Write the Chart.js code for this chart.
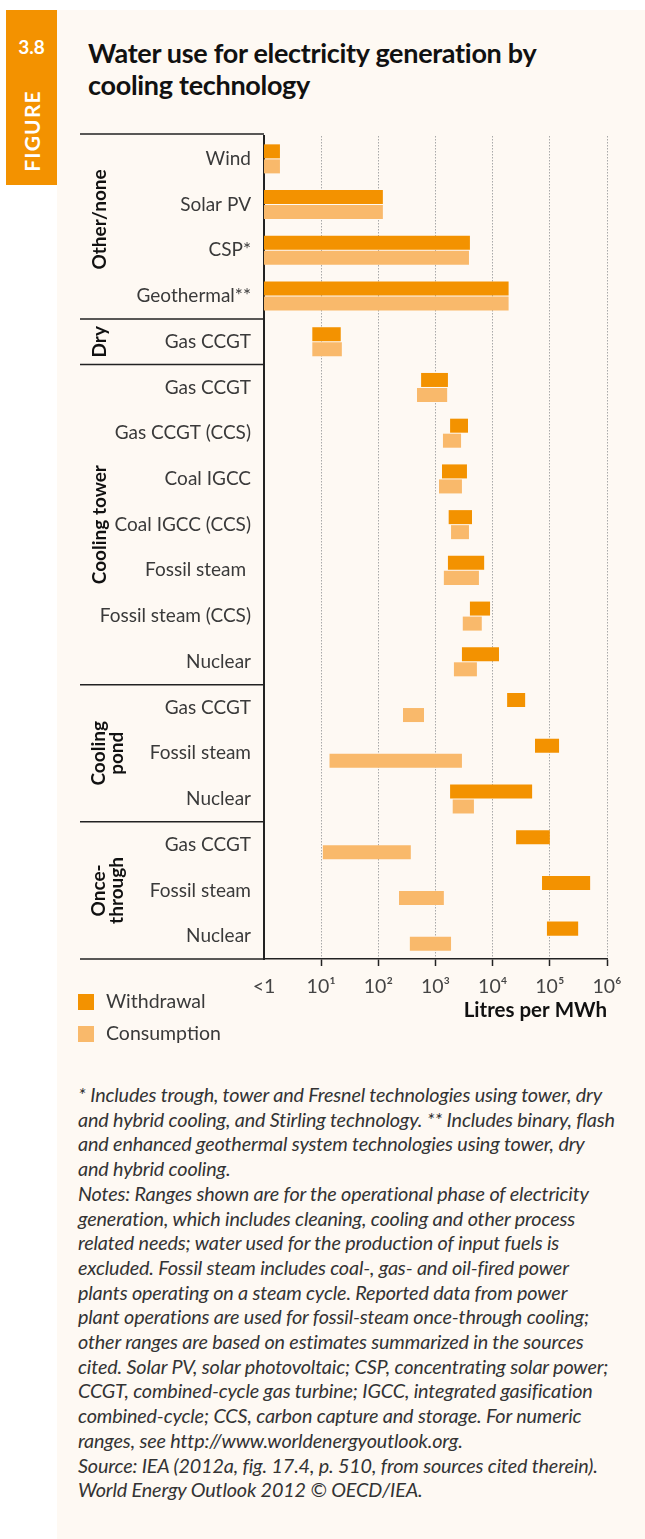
<!DOCTYPE html>
<html>
<head>
<meta charset="utf-8">
<script src="https://cdn.jsdelivr.net/npm/chart.js@4/dist/chart.umd.min.js"></script>
<style>
  html, body { margin:0; padding:0; background:#ffffff; }
  body { width:645px; height:1539px; position:relative; overflow:hidden; font-family: Lato, "Open Sans", sans-serif; }
  #cream { position:absolute; left:57px; top:10px; width:588px; height:1529px; background:#FEF9F3; }
  #tab { position:absolute; left:6px; top:10px; width:51px; height:175px; background:#F39200; }
  #tabnum { position:absolute; left:6px; top:35px; width:51px; text-align:center; color:#fff; font-weight:700; font-size:19px; }
  #tabfig { position:absolute; left:31px; top:131px; transform:translate(-50%,-50%) rotate(-90deg); color:#fff; font-weight:700; font-size:21px; letter-spacing:1.2px; white-space:nowrap; }
  #title { position:absolute; left:88px; top:37px; font-weight:700; font-size:27px; line-height:32px; color:#111; letter-spacing:-0.3px; }
  #wrap { position:absolute; left:0; top:0; width:645px; height:1023px; }
  .leg { position:absolute; left:78px; font-size:19.5px; color:#3a3a3a; }
  .leg span.sw { position:absolute; left:0; top:3px; width:16px; height:16px; }
  .leg span.tx { position:absolute; left:28px; top:-2px; white-space:nowrap; }
  #notes { position:absolute; left:78px; top:1082px; width:560px; font-style:italic; font-size:19.8px; line-height:24.7px; color:#333; letter-spacing:-0.15px; white-space:nowrap; }
</style>
</head>
<body>
<div id="cream"></div>
<div id="tab"></div>
<div id="tabnum">3.8</div>
<div id="tabfig">FIGURE</div>
<div id="title">Water use for electricity generation by<br>cooling technology</div>
<div id="wrap"><canvas id="c" width="645" height="1023"></canvas></div>
<div id="legend"></div>
<div id="notes">* Includes trough, tower and Fresnel technologies using tower, dry<br>and hybrid cooling, and Stirling technology. ** Includes binary, flash<br>and enhanced geothermal system technologies using tower, dry<br>and hybrid cooling.<br>Notes: Ranges shown are for the operational phase of electricity<br>generation, which includes cleaning, cooling and other process<br>related needs; water used for the production of input fuels is<br>excluded. Fossil steam includes coal-, gas- and oil-fired power<br>plants operating on a steam cycle. Reported data from power<br>plant operations are used for fossil-steam once-through cooling;<br>other ranges are based on estimates summarized in the sources<br>cited. Solar PV, solar photovoltaic; CSP, concentrating solar power;<br>CCGT, combined-cycle gas turbine; IGCC, integrated gasification<br>combined-cycle; CCS, carbon capture and storage. For numeric<br>ranges, see http://www.worldenergyoutlook.org.<br>Source: IEA (2012a, fig. 17.4, p. 510, from sources cited therein).<br>World Energy Outlook 2012 © OECD/IEA.</div>
<script>
// ---------- DATA ----------
const categories = [
  "Wind", "Solar PV", "CSP*", "Geothermal**",
  "Gas CCGT",
  "Gas CCGT", "Gas CCGT (CCS)", "Coal IGCC", "Coal IGCC (CCS)", "Fossil steam ", "Fossil steam (CCS)", "Nuclear",
  "Gas CCGT", "Fossil steam", "Nuclear",
  "Gas CCGT", "Fossil steam", "Nuclear"
];
const groupNames = [["Other/none"], ["Dry"], ["Cooling tower"], ["Cooling", "pond"], ["Once-", "through"]];
const groupSizes = [4, 1, 7, 3, 3];

const seriesNames = ["Withdrawal", "Consumption"];
const seriesColors = ["#F39200", "#F9B96B"];

// litres per MWh (low, high)
const withdrawalLow  = [1, 1, 1, 1, 7, 560, 1800, 1300, 1700, 1650, 4000, 2900, 17900, 55000, 1800, 25700, 73000, 89000];
const withdrawalHigh = [1.9, 120, 4000, 19000, 22, 1650, 3700, 3550, 4350, 7100, 9000, 12900, 37000, 145000, 49000, 100000, 507000, 313000];
const consumptionLow  = [1, 1, 1, 1, 7, 475, 1350, 1150, 1870, 1400, 3000, 2100, 270, 14, 2000, 10.7, 230, 356];
const consumptionHigh = [1.9, 120, 3850, 19000, 23, 1600, 2800, 2900, 3850, 5750, 6450, 5300, 630, 2900, 4700, 370, 1400, 1870];

const tickValues = [1, 10, 100, 1000, 10000, 100000, 1000000];
const tickLabels = ["<1", "10\u00B9", "10\u00B2", "10\u00B3", "10\u2074", "10\u2075", "10\u2076"];
const axisTitle = "Litres per MWh";

// ---------- LEGEND (HTML) ----------
const legend = document.getElementById('legend');
seriesNames.forEach((n, i) => {
  const d = document.createElement('div');
  d.className = 'leg';
  d.style.top = (991 + i * 32) + 'px';
  d.innerHTML = '<span class="sw" style="background:' + seriesColors[i] + '"></span><span class="tx">' + n + '</span>';
  legend.appendChild(d);
});

// ---------- CHART ----------
const pair = (lo, hi) => lo.map((v, i) => [v, hi[i]]);

const groupPlugin = {
  id: 'groups',
  afterDraw(chart) {
    const ctx = chart.ctx;
    const y = chart.scales.y;
    const area = chart.chartArea;
    const step = y.getPixelForValue(1) - y.getPixelForValue(0);
    const x0 = 80;
    ctx.save();
    ctx.strokeStyle = '#222';
    ctx.lineWidth = 1.5;
    ctx.beginPath(); ctx.moveTo(x0, area.top - 2); ctx.lineTo(area.left, area.top - 2); ctx.stroke();
    ctx.beginPath(); ctx.moveTo(x0, area.bottom); ctx.lineTo(area.left, area.bottom); ctx.stroke();
    let start = 0;
    groupSizes.forEach((n, g) => {
      const end = start + n - 1;
      if (g > 0) {
        const by = y.getPixelForValue(start) - step / 2;
        ctx.beginPath(); ctx.moveTo(x0, by); ctx.lineTo(area.left, by); ctx.stroke();
      }
      const cy = (y.getPixelForValue(start) + y.getPixelForValue(end)) / 2 - (g === 0 ? 8 : 0);
      const lines = groupNames[g];
      const lh = 18;
      ctx.save();
      ctx.translate(100 + (lines.length - 1) * 8, cy);
      ctx.rotate(-Math.PI / 2);
      ctx.fillStyle = '#111';
      ctx.font = 'bold 19px Lato, "Open Sans", sans-serif';
      ctx.textAlign = 'center';
      ctx.textBaseline = 'middle';
      lines.forEach((t, k) => {
        ctx.fillText(t, 0, (k - (lines.length - 1) / 2) * lh);
      });
      ctx.restore();
      start += n;
    });
    ctx.restore();
  }
};

new Chart(document.getElementById('c'), {
  type: 'bar',
  data: {
    labels: categories,
    datasets: [
      { label: seriesNames[0], data: pair(withdrawalLow, withdrawalHigh), backgroundColor: seriesColors[0], borderWidth: 0, borderSkipped: false },
      { label: seriesNames[1], data: pair(consumptionLow, consumptionHigh), backgroundColor: seriesColors[1], borderWidth: 0, borderSkipped: false }
    ]
  },
  options: {
    indexAxis: 'y',
    responsive: false,
    animation: false,
    devicePixelRatio: 1,
    categoryPercentage: 0.657,
    barPercentage: 0.933,
    layout: { padding: { top: 136, right: 38, left: 0, bottom: 0 } },
    plugins: { legend: { display: false }, tooltip: { enabled: false }, title: { display: false } },
    scales: {
      x: {
        type: 'logarithmic',
        min: 1, max: 1000000,
        afterBuildTicks: (s) => { s.ticks = tickValues.map(v => ({ value: v })); },
        afterFit: (s) => { s.height = 64; },
        ticks: {
          autoSkip: false, maxRotation: 0, padding: 9,
          color: '#444',
          font: { family: 'Lato, "DejaVu Sans", sans-serif', size: 19.5 },
          callback: (v, i) => tickLabels[i]
        },
        grid: {
          color: (c) => (c.index === 0 ? 'rgba(0,0,0,0)' : '#a9a9a9'),
          lineWidth: 1,
          drawTicks: true,
          tickLength: 7,
          tickColor: (c) => (c.index === 0 ? 'rgba(0,0,0,0)' : '#222'),
          tickWidth: 1.5
        },
        border: { display: true, color: '#222', width: 1.5, dash: [1.5, 1.5] },
        title: {
          display: true, text: axisTitle, align: 'end', padding: 0,
          color: '#111', font: { family: 'Lato, sans-serif', size: 20.5, weight: 'bold' }
        }
      },
      y: {
        type: 'category',
        afterFit: (s) => { s.width = 264; },
        ticks: {
          padding: 13, color: '#3a3a3a', autoSkip: false,
          font: { family: 'Lato, "Open Sans", sans-serif', size: 19 }
        },
        grid: { display: false, drawTicks: false },
        border: { display: true, color: '#222', width: 2 }
      }
    }
  },
  plugins: [groupPlugin]
});
</script>
</body>
</html>
